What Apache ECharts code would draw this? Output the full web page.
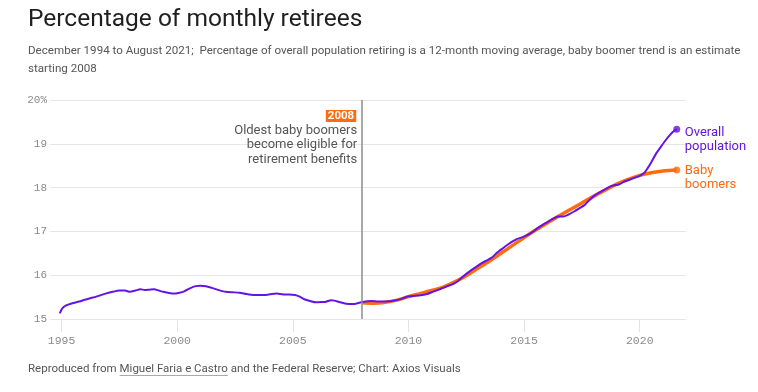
<!DOCTYPE html>
<html>
<head>
<meta charset="utf-8">
<script src="https://cdn.jsdelivr.net/npm/echarts@6/dist/echarts.min.js"></script>
<style>
html,body{margin:0;padding:0;background:#fff;}
#chart{width:758px;height:392px;}
</style>
</head>
<body>
<div id="chart"></div>
<script>
// ---- Data ----
const overallYears = [1994.92,1995.04,1995.2,1995.4,1995.77,1996.0,1996.2,1996.5,1996.9,1997.2,1997.5,1997.75,1997.95,1998.2,1998.4,1998.6,1998.8,1999.0,1999.2,1999.4,1999.6,1999.85,2000.1,2000.3,2000.55,2000.8,2001.0,2001.25,2001.5,2001.8,2002.1,2002.4,2002.7,2003.0,2003.3,2003.6,2003.84,2004.1,2004.3,2004.6,2004.85,2005.1,2005.3,2005.5,2005.75,2006.0,2006.2,2006.4,2006.65,2006.8,2007.0,2007.3,2007.6,2007.8,2008.0,2008.4,2008.7,2009.0,2009.4,2009.7,2010.0,2010.3,2010.6,2010.8,2011.0,2011.2,2011.4,2011.63,2011.9,2012.1,2012.3,2012.5,2012.7,2012.93,2013.15,2013.36,2013.6,2013.8,2014.07,2014.3,2014.5,2014.7,2014.94,2015.2,2015.4,2015.6,2015.8,2016.03,2016.25,2016.46,2016.7,2016.9,2017.18,2017.4,2017.61,2017.85,2018.1,2018.4,2018.67,2018.85,2019.1,2019.3,2019.55,2019.8,2020.0,2020.2,2020.35,2020.5,2020.7,2020.9,2021.1,2021.3,2021.45,2021.6];
const overallValues = [15.13,15.25,15.31,15.35,15.40,15.44,15.47,15.51,15.58,15.62,15.65,15.65,15.62,15.65,15.68,15.66,15.67,15.68,15.65,15.62,15.60,15.58,15.60,15.63,15.70,15.75,15.76,15.75,15.71,15.66,15.62,15.61,15.60,15.57,15.55,15.55,15.55,15.57,15.58,15.56,15.56,15.55,15.51,15.45,15.41,15.38,15.39,15.39,15.43,15.42,15.39,15.35,15.34,15.36,15.39,15.41,15.40,15.40,15.42,15.46,15.52,15.53,15.55,15.57,15.61,15.65,15.69,15.74,15.79,15.85,15.94,16.03,16.11,16.19,16.27,16.33,16.40,16.50,16.61,16.70,16.77,16.83,16.87,16.93,17.00,17.08,17.15,17.22,17.29,17.34,17.34,17.38,17.46,17.53,17.60,17.73,17.84,17.93,18.01,18.05,18.07,18.13,18.18,18.23,18.27,18.34,18.45,18.58,18.77,18.92,19.07,19.20,19.28,19.33];
const boomerYears = [2008.0,2008.5,2009.0,2009.5,2010.0,2010.5,2011.0,2011.5,2012.0,2012.5,2013.0,2013.5,2014.0,2014.5,2015.0,2015.5,2016.0,2016.5,2017.0,2017.5,2018.0,2018.5,2019.0,2019.5,2020.0,2020.5,2021.0,2021.6];
const boomerValues = [15.37,15.36,15.38,15.43,15.51,15.58,15.65,15.73,15.85,15.99,16.16,16.32,16.50,16.68,16.86,17.03,17.19,17.35,17.50,17.65,17.80,17.94,18.08,18.19,18.28,18.34,18.38,18.40];
const xTickYears = [1995,2000,2005,2010,2015,2020];
const yTickValues = [15,16,17,18,19,20];
const eventYear = 2008;

// ---- Text ----
const titleText = 'Percentage of monthly retirees';
const subtitleText = 'December 1994 to August 2021;  Percentage of overall population retiring is a 12-month moving average, baby boomer trend is an estimate\nstarting 2008';
const footerPre = 'Reproduced from ';
const footerLink = 'Miguel Faria e Castro';
const footerPost = ' and the Federal Reserve; Chart: Axios Visuals';
const annotationTag = '2008';
const annotationText = 'Oldest baby boomers\nbecome eligible for\nretirement benefits';
const overallName = 'Overall\npopulation';
const boomerName = 'Baby\nboomers';

const PURPLE = '#6414e6';
const ORANGE = '#ff6b0f';
const SANS = 'Roboto, "Noto Sans", sans-serif';
const MONO = '"Liberation Mono", "DejaVu Sans Mono", monospace';

const zip = (xs, ys) => xs.map((x, i) => [x, ys[i]]);
const overallData = zip(overallYears, overallValues);
const boomerData = zip(boomerYears, boomerValues);

const chart = echarts.init(document.getElementById('chart'), null, {renderer: 'canvas'});

chart.setOption({
  animation: false,
  backgroundColor: '#fff',
  grid: {left: 50, right: 72, top: 100, bottom: 73, containLabel: false},
  xAxis: {
    type: 'value',
    min: 1994.5,
    max: 2022,
    splitLine: {show: false},
    axisLine: {show: false},
    axisTick: {show: true, customValues: xTickYears, length: 13, lineStyle: {color: '#e3e3e3', width: 1}},
    axisLabel: {customValues: xTickYears, formatter: v => String(v), color: '#8a8a8a', fontFamily: MONO, fontSize: 11.5, margin: 16}
  },
  yAxis: {
    type: 'value',
    min: yTickValues[0],
    max: yTickValues[yTickValues.length - 1],
    interval: 1,
    axisLine: {show: false},
    axisTick: {show: false},
    splitLine: {lineStyle: {color: '#e6e6e6', width: 1}},
    axisLabel: {formatter: v => v === 20 ? '20%' : String(v), color: '#8a8a8a', fontFamily: MONO, fontSize: 11, margin: 3}
  },
  series: [
    {
      name: 'Baby boomers',
      type: 'line',
      data: boomerData,
      symbol: 'none',
      smooth: 0.3,
      z: 2,
      lineStyle: {color: ORANGE, width: 3.5},
      endLabel: {show: true, formatter: boomerName, color: ORANGE, fontFamily: SANS, fontSize: 13, lineHeight: 14, distance: 8, offset: [0, 8]}
    },
    {
      name: 'Overall population',
      type: 'line',
      data: overallData,
      symbol: 'none',
      smooth: 0.2,
      z: 3,
      lineStyle: {color: PURPLE, width: 2},
      endLabel: {show: true, formatter: overallName, color: PURPLE, fontFamily: SANS, fontSize: 13, lineHeight: 14, distance: 8, offset: [0, 10]},
      markLine: {
        silent: true,
        symbol: 'none',
        label: {show: false},
        lineStyle: {color: '#8c8c8c', width: 1.5, type: 'solid'},
        data: [{xAxis: eventYear}]
      }
    },
    {
      type: 'scatter',
      symbolSize: 7,
      z: 4,
      silent: true,
      data: [
        {value: overallData[overallData.length - 1], itemStyle: {color: PURPLE}},
        {value: boomerData[boomerData.length - 1], itemStyle: {color: ORANGE}}
      ]
    }
  ]
});

// annotation anchored to the 2008 line
const eventTop = chart.convertToPixel({xAxisIndex: 0, yAxisIndex: 0}, [eventYear, yTickValues[yTickValues.length - 1]]);
const annX = eventTop[0] - 6;
const footerFont = '11.5px ' + SANS;

function drawGraphics() {
  const preW = echarts.format.getTextRect ? echarts.format.getTextRect(footerPre, footerFont).width : 0;
  const ctx = document.createElement('canvas').getContext('2d');
  ctx.font = footerFont;
  const pW = ctx.measureText(footerPre).width;
  const lW = ctx.measureText(footerLink).width;
  chart.setOption({
    graphic: [
      {type: 'text', left: 28, top: 7, style: {text: titleText, fill: '#1f1f1f', font: '400 24.5px ' + SANS}},
      {type: 'text', left: 28, top: 42, style: {text: subtitleText, fill: '#555', font: '11.6px ' + SANS, lineHeight: 18}},
      {type: 'text', x: annX, y: eventTop[1] + 10, style: {text: annotationTag, fill: '#fff', font: 'bold 11.5px ' + SANS, align: 'right', verticalAlign: 'top', backgroundColor: ORANGE, padding: [0, 2, 0, 2]}},
      {type: 'text', x: annX + 1, y: eventTop[1] + 23, style: {text: annotationText, fill: '#555', font: '13px ' + SANS, align: 'right', verticalAlign: 'top', lineHeight: 14.5}},
      {type: 'text', x: 28, y: 369, style: {text: footerPre + footerLink + footerPost, fill: '#555', font: footerFont, verticalAlign: 'middle'}},
      {type: 'line', shape: {x1: 28 + pW, y1: 375.5, x2: 28 + pW + lW, y2: 375.5}, style: {stroke: '#aaa', lineWidth: 1}}
    ]
  });
}

if (document.fonts && document.fonts.load) {
  document.fonts.load(footerFont).then(drawGraphics, drawGraphics);
} else {
  drawGraphics();
}
</script>
</body>
</html>
